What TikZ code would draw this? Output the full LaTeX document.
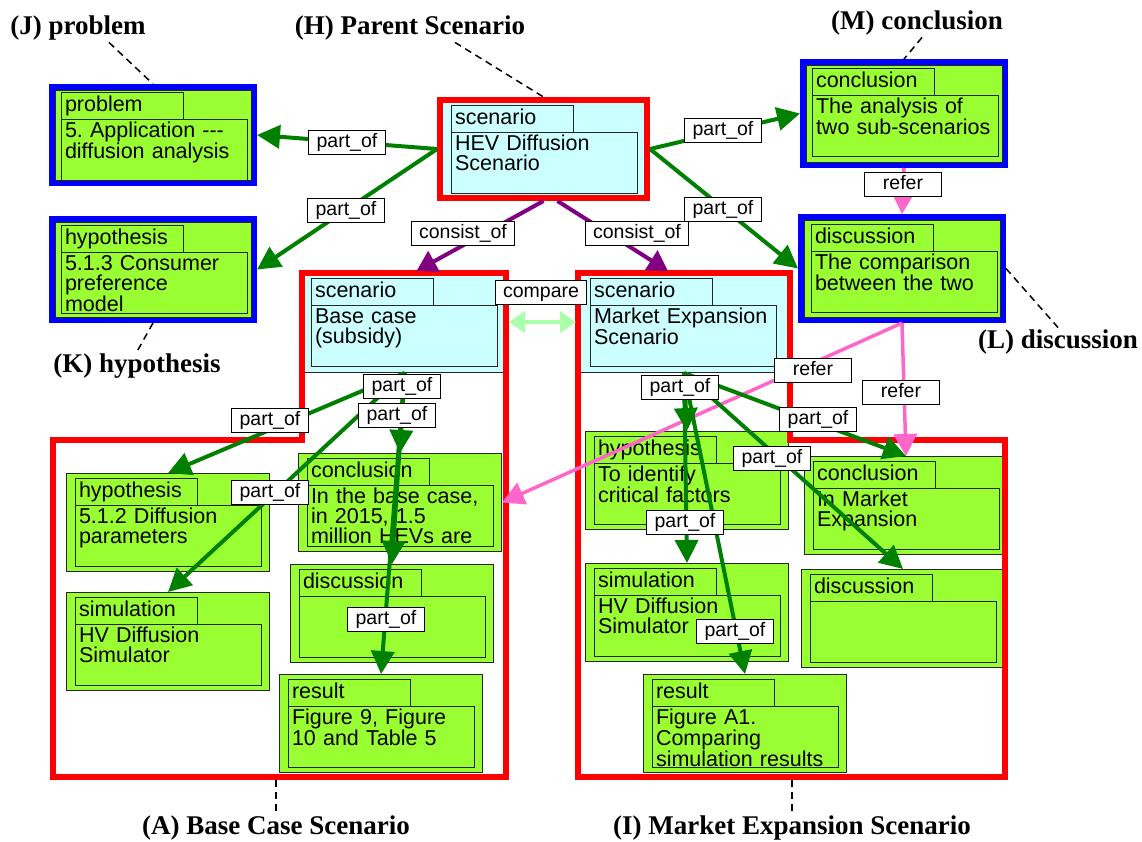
\documentclass[tikz,border=0pt]{standalone}
\usepackage{fontspec}
\setmainfont{Liberation Sans}
\newfontfamily\annfont{Liberation Serif}
\usetikzlibrary{arrows.meta}
\definecolor{boxgreen}{RGB}{153,255,51}
\definecolor{scencyan}{RGB}{204,255,255}
\definecolor{arrgreen}{RGB}{0,128,0}
\definecolor{refpink}{RGB}{255,102,204}
\definecolor{conpurple}{RGB}{128,0,128}
\definecolor{cmpgreen}{RGB}{170,255,170}
\frenchspacing

\begin{document}
\begin{tikzpicture}[x=1pt, y=-1pt, font=\fontsize{21.5}{20}\selectfont, sharp corners,
     cls/.style={draw=black!85, line width=1pt, fill=boxgreen, anchor=north west, inner sep=0pt,
       minimum width=203pt, minimum height=98pt},
     bluebox/.style={cls, preaction={draw=blue, line width=12pt}, outer sep=6pt, minimum width=196pt},
     hevbox/.style={draw=red, line width=6pt, fill=scencyan, anchor=north west, inner sep=0pt},
     scen/.style={draw=black!85, line width=1pt, fill=scencyan, anchor=north west, inner sep=0pt},
     tab/.style={draw=black!85, line width=1pt, anchor=north west, outer sep=0pt, align=left,
       text width=114pt, inner xsep=4pt, inner ysep=2.5pt, text height=17pt, text depth=5pt},
     body/.style={draw=black!85, line width=1pt, anchor=north west, outer sep=0pt, align=left,
       text width=178pt, inner xsep=4pt, inner ysep=2pt, text height=16pt, text depth=41pt},
     frame/.style={draw=red, line width=6pt, line join=miter},
     lbl/.style={draw=black, line width=1pt, fill=white, font=\fontsize{19.5}{20}\selectfont,
       minimum width=77pt, inner xsep=8pt, inner ysep=2pt, text height=15pt, text depth=5pt},
     lab/.style={font=\fontsize{27}{30}\annfont\bfseries, inner sep=2pt},
     lead/.style={draw=black, line width=1.5pt, dash pattern=on 7pt off 5pt},
     po/.style={draw=arrgreen, line width=4pt, -{Triangle[length=23pt,width=23pt]}},
     co/.style={draw=conpurple, line width=4pt, -{Triangle[length=20pt,width=23pt]}},
     rf/.style={draw=refpink, line width=3.5pt, -{Triangle[length=22pt,width=23pt]}},
     cmp/.style={draw=cmpgreen, line width=4pt, {Triangle[length=16pt,width=21pt]}-{Triangle[length=16pt,width=21pt]}}]
  \useasboundingbox (0,0) rectangle (1142,841);

  % parent scenario
  \node[hevbox, minimum width=207pt, minimum height=98pt] (hev) at (437,97) {};
  \node[tab] (hevt) at ([shift={(14,8)}]hev.north west) {scenario};
  \node[body] (hevb) at (hevt.south west) {HEV Diffusion\\Scenario};

  % problem, hypothesis, conclusion, discussion of the parent
  \node[bluebox, minimum height=90pt] (prob) at (49,84) {};
  \node[tab] (probt) at ([shift={(12,8)}]prob.north west) {problem};
  \node[body] (probb) at (probt.south west) {5. Application -{}-{}-\\diffusion analysis};
  \node[bluebox, minimum height=95pt] (khyp) at (49,216) {};
  \node[tab] (khypt) at ([shift={(12,9)}]khyp.north west) {hypothesis};
  \node[body] (khypb) at (khypt.south west) {5.1.3 Consumer\\preference\\model};
  \node[bluebox, minimum height=97pt] (mcon) at (800,59) {};
  \node[tab] (mcont) at ([shift={(12,9)}]mcon.north west) {conclusion};
  \node[body] (mconb) at (mcont.south west) {The analysis of\\two sub-scenarios};
  \node[bluebox, minimum height=97pt] (ldis) at (798,214) {};
  \node[tab] (ldist) at ([shift={(13,10)}]ldis.north west) {discussion};
  \node[body] (ldisb) at (ldist.south west) {The comparison\\between the two};

  % base case scenario
  \node[scen, minimum width=208pt, minimum height=101pt] (bscen) at (300,271) {};
  \node[tab] (bscent) at ([shift={(11,7)}]bscen.north west) {scenario};
  \node[body] (bscenb) at (bscent.south west) {Base case\\(subsidy)};
  \node[cls] (bhyp) at (66,473) {};
  \node[tab] (bhypt) at ([shift={(9,5)}]bhyp.north west) {hypothesis};
  \node[body] (bhypb) at (bhypt.south west) {5.1.2 Diffusion\\parameters};
  \node[cls] (bsim) at (66,592) {};
  \node[tab] (bsimt) at ([shift={(9,5)}]bsim.north west) {simulation};
  \node[body] (bsimb) at (bsimt.south west) {HV Diffusion\\Simulator};
  \node[cls] (bcon) at (298,453) {};
  \node[tab] (bcont) at ([shift={(9,5)}]bcon.north west) {conclusion};
  \node[body] (bconb) at (bcont.south west) {In the base case,\\in 2015, 1.5\\million HEVs are};
  \node[cls] (bdis) at (290,564) {};
  \node[tab] (bdist) at ([shift={(9,5)}]bdis.north west) {discussion};
  \node[body] (bdisb) at (bdist.south west) {};
  \node[cls] (bres) at (279,674) {};
  \node[tab] (brest) at ([shift={(9,5)}]bres.north west) {result};
  \node[body] (bresb) at (brest.south west) {Figure 9, Figure\\10 and Table 5};

  % market expansion scenario
  \node[scen, minimum width=215pt, minimum height=101pt] (mscen) at (576,271) {};
  \node[tab] (mscent) at ([shift={(14,7)}]mscen.north west) {scenario};
  \node[body] (mscenb) at (mscent.south west) {Market Expansion\\Scenario};
  \node[cls] (mhyp) at (585,431) {};
  \node[tab] (mhypt) at ([shift={(9,5)}]mhyp.north west) {hypothesis};
  \node[body] (mhypb) at (mhypt.south west) {To identify\\critical factors};
  \node[cls] (msim) at (585,563) {};
  \node[tab] (msimt) at ([shift={(9,5)}]msim.north west) {simulation};
  \node[body] (msimb) at (msimt.south west) {HV Diffusion\\Simulator};
  \node[cls] (mconc) at (804,456) {};
  \node[tab] (mconct) at ([shift={(9,5)}]mconc.north west) {conclusion};
  \node[body] (mconcb) at (mconct.south west) {In Market\\Expansion};
  \node[cls] (mdis) at (801,569) {};
  \node[tab] (mdist) at ([shift={(9,5)}]mdis.north west) {discussion};
  \node[body] (mdisb) at (mdist.south west) {};
  \node[cls] (mres) at (643,674) {};
  \node[tab] (mrest) at ([shift={(9,5)}]mres.north west) {result};
  \node[body] (mresb) at (mrest.south west) {Figure A1.\\Comparing\\simulation results};

  % red outlines of the two sub-scenarios
  \draw[frame] (53,440) -- (302,440) -- (302,273) -- (506,273) -- (506,777) -- (53,777) -- cycle;
  \draw[frame] (578,273) -- (790,273) -- (790,440) -- (1005,440) -- (1005,777) -- (578,777) -- cycle;
  \coordinate (bfoot) at (276,780);
  \coordinate (mfoot) at (792,780);

  % connectors
  \draw[po] (hev.west) -- (prob.east);
  \draw[po] (hev.west) -- (khyp.east);
  \draw[po] (hev.east) -- (mcon.west);
  \draw[po] (hev.east) -- (ldis.west);
  \draw[co] (hev.south) -- ([shift={(12,0)}]bscen.north);
  \draw[co] ([shift={(14,0)}]hev.south) -- ([shift={(-16,0)}]mscen.north);
  \draw[rf] (mcon.south) -- (ldis.north);
  \draw[rf] (ldis.south) -- (bcon.east);
  \draw[rf] (ldis.south) -- (mconc.north);
  \draw[cmp] (bscen.east) -- (mscen.west);
  \draw[po] (bscen.south) -- (bhyp.north);
  \draw[po] (bscen.south) -- (bsim.north);
  \draw[po] (bscen.south) -- (bcon.north);
  \draw[po] (bscen.south) -- (bdis.north);
  \draw[po] (bscen.south) -- (bres.north);
  \draw[po] (mscen.south) -- (mhyp.north);
  \draw[po] (mscen.south) -- (msim.north);
  \draw[po] (mscen.south) -- (mconc.north);
  \draw[po] (mscen.south) -- (mdis.north);
  \draw[po] (mscen.south) -- (mres.north);

  % connector labels
  \node[lbl] (pprob) at (347,142) {part\_of};
  \node[lbl] (pkhyp) at (346,210) {part\_of};
  \node[lbl] (pmcon) at (723,130) {part\_of};
  \node[lbl] (pldis) at (723,209) {part\_of};
  \node[lbl] (cbase) at (463,233) {consist\_of};
  \node[lbl] (cmark) at (637,233) {consist\_of};
  \node[lbl] (rml) at (903,184) {refer};
  \node[lbl] (cmpl) at (541,292) {compare};
  \node[lbl] (rlb) at (813,370) {refer};
  \node[lbl] (rlm) at (901,392) {refer};
  \node[lbl] (pbdis) at (402,386) {part\_of};
  \node[lbl] (pbcon) at (397,415) {part\_of};
  \node[lbl] (pbhyp) at (270,420) {part\_of};
  \node[lbl] (pbsim) at (270,492) {part\_of};
  \node[lbl] (pbres) at (386,619) {part\_of};
  \node[lbl] (pmhyp) at (680,387) {part\_of};
  \node[lbl] (pmconc) at (818,419) {part\_of};
  \node[lbl] (pmdis) at (772,458) {part\_of};
  \node[lbl] (pmsim) at (685,522) {part\_of};
  \node[lbl] (pmres) at (735,631) {part\_of};

  % callouts
  \node[lab] (jlab) at (78,28) {(J) problem};
  \node[lab] (hlab) at (410,28) {(H) Parent Scenario};
  \node[lab] (mlab) at (917,23) {(M) conclusion};
  \node[lab] (llab) at (1058,342) {(L) discussion};
  \node[lab] (klab) at (137,366) {(K) hypothesis};
  \node[lab] (alab) at (276,828) {(A) Base Case Scenario};
  \node[lab] (ilab) at (792,828) {(I) Market Expansion Scenario};
  \draw[lead] ([shift={(31,0)}]jlab.south) -- (prob.north);
  \draw[lead] ([shift={(45,0)}]hlab.south) -- (hev.north);
  \draw[lead] ([shift={(5,0)}]mlab.south) -- (mcon.north);
  \draw[lead] (ldis.east) -- (llab.north);
  \draw[lead] (khyp.south) -- (klab.north);
  \draw[lead] (bfoot) -- (alab.north);
  \draw[lead] (mfoot) -- (ilab.north);
\end{tikzpicture}
\end{document}
